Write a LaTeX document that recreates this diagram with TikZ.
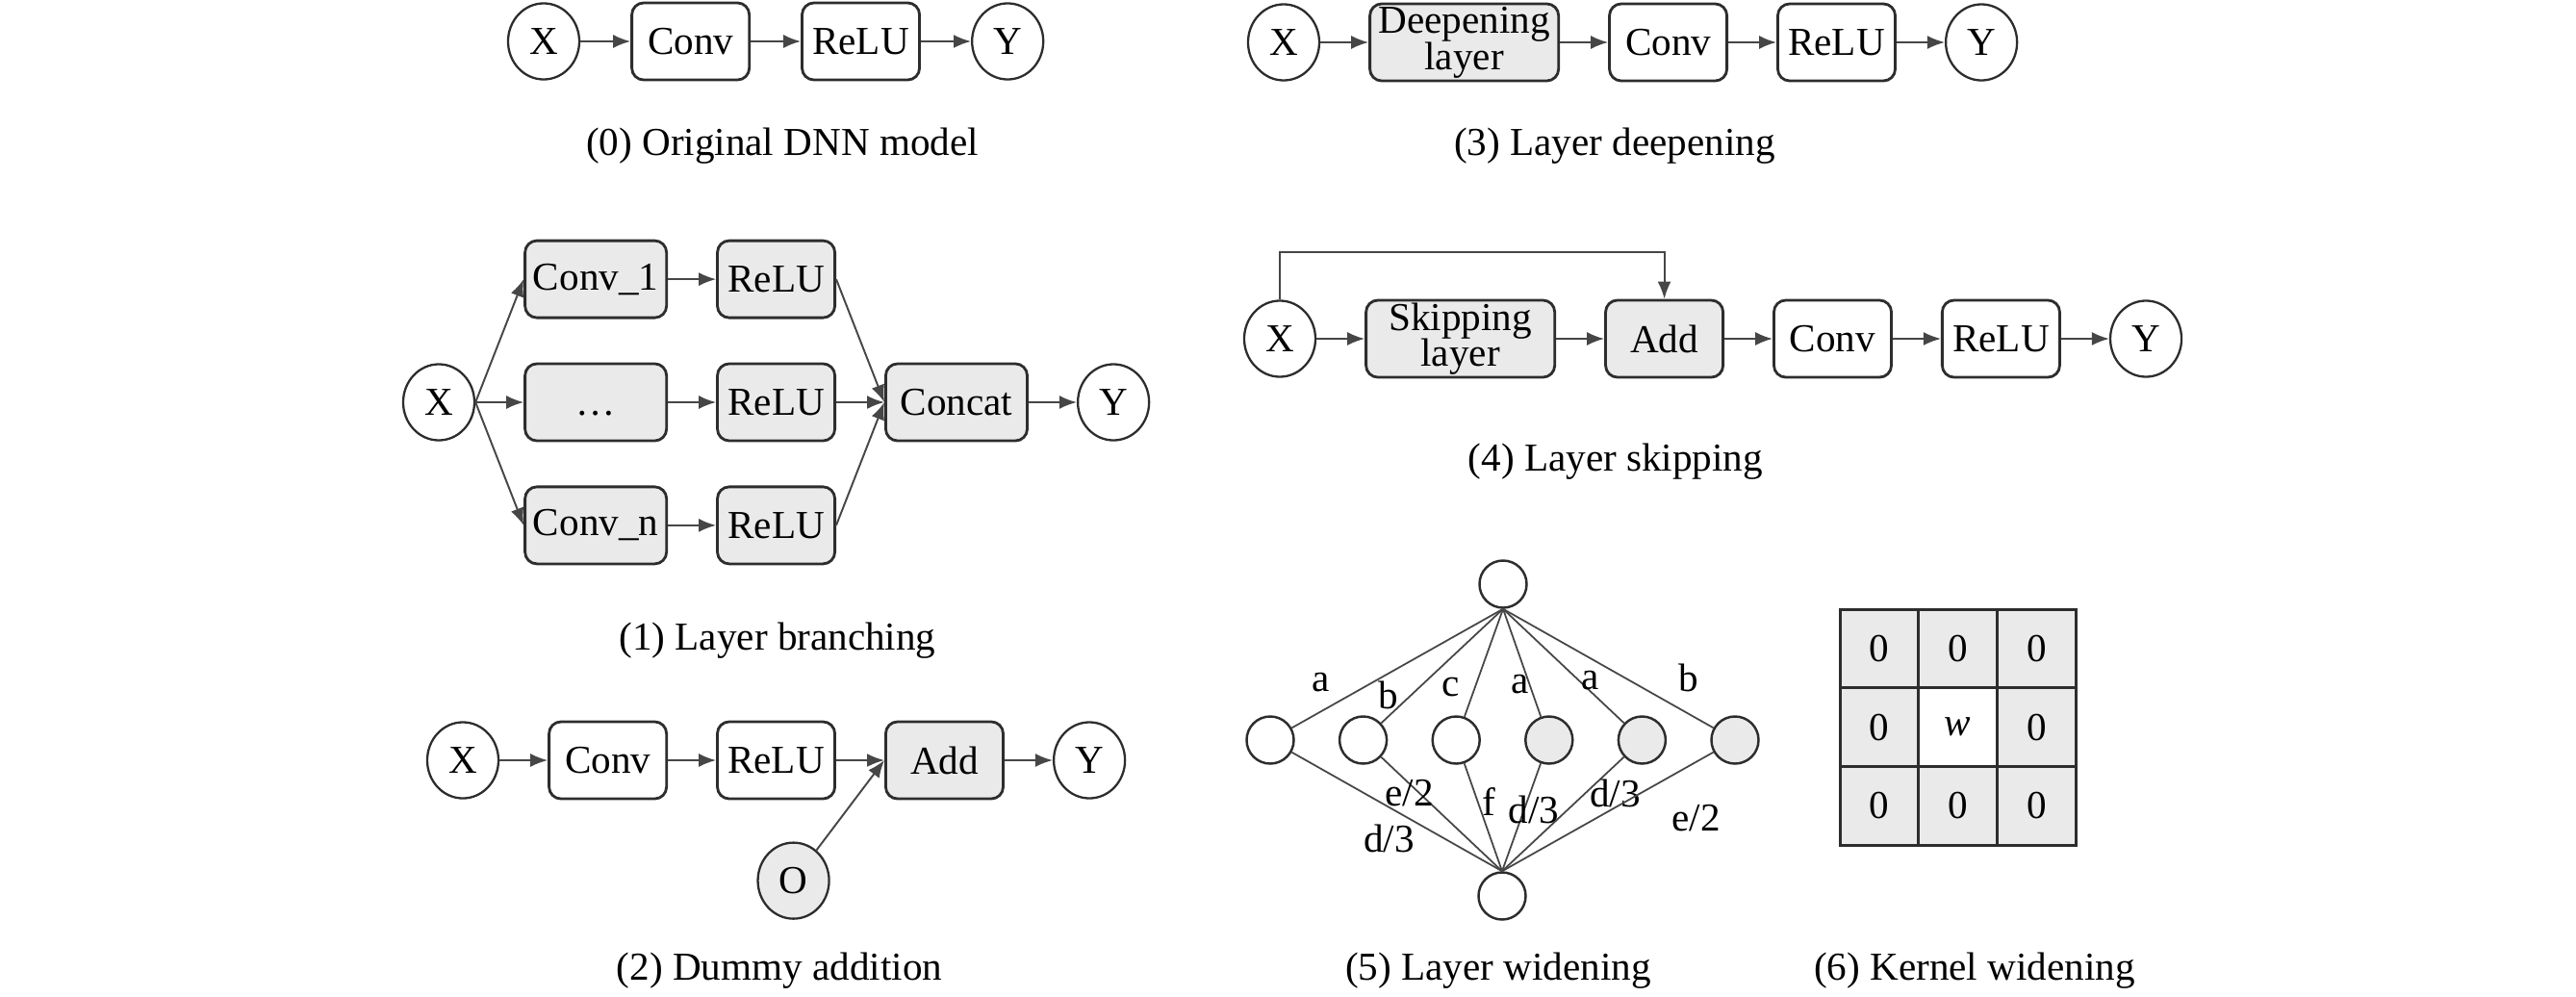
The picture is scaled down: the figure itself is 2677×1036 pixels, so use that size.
\documentclass[tikz,border=0pt]{standalone}
\usepackage{fontspec}
\setmainfont{Liberation Serif}
\usetikzlibrary{arrows.meta, positioning, shapes.geometric}
\definecolor{boxfill}{RGB}{234,234,234}
\definecolor{edgegray}{RGB}{45,45,45}
\definecolor{linegray}{RGB}{70,70,70}

\begin{document}
\begin{tikzpicture}[x=0.01cm, y=-0.01cm,
    blk/.style={rectangle, rounded corners=3.5pt, draw=edgegray, line width=0.8pt, fill=white, minimum width=1.22cm, minimum height=0.8cm, inner xsep=2pt, inner ysep=0.5pt, align=center, font=\fontsize{11.7pt}{14pt}\selectfont},
    gblk/.style={blk, fill=boxfill},
    wide/.style={minimum width=1.47cm},
    wider/.style={minimum width=1.96cm},
    term/.style={ellipse, draw=edgegray, line width=0.65pt, fill=white, minimum width=0.74cm, minimum height=0.79cm, inner sep=0pt, font=\fontsize{11.7pt}{14pt}\selectfont},
    neuron/.style={circle, draw=edgegray, line width=0.7pt, minimum size=0.49cm, inner sep=0pt},
    cell/.style={rectangle, draw=edgegray, line width=0.8pt, fill=boxfill, minimum size=0.817cm, inner sep=0pt, font=\fontsize{11.7pt}{14pt}\selectfont},
    captxt/.style={font=\fontsize{11.7pt}{14pt}\selectfont, inner sep=0pt},
    wlbl/.style={font=\fontsize{11.7pt}{14pt}\selectfont, inner sep=0pt, text=black},
    arrow/.style={-{Latex[length=1.8mm, width=1.4mm]}, line width=0.55pt, color=linegray},
    wline/.style={line width=0.5pt, color=linegray}
]
\useasboundingbox (0,0) rectangle (2677,1036);

% (0) original model
\node[term] (x0) at (565,43) {X};
\node[blk, right=0.52cm of x0] (conv0) {Conv};
\node[blk, right=0.52cm of conv0] (relu0) {ReLU};
\node[term, right=0.52cm of relu0] (y0) {Y};
\draw[arrow] (x0) -- (conv0);
\draw[arrow] (conv0) -- (relu0);
\draw[arrow] (relu0) -- (y0);
\node[captxt] (cap0) at (813,152) {(0) Original DNN model};

% (3) deepening
\node[term] (x3) at (1334,44) {X};
\node[gblk, wider, right=0.5cm of x3] (deep3) {Deepening\\[-3.3pt]layer};
\node[blk, right=0.5cm of deep3] (conv3) {Conv};
\node[blk, right=0.5cm of conv3] (relu3) {ReLU};
\node[term, right=0.5cm of relu3] (y3) {Y};
\draw[arrow] (x3) -- (deep3);
\draw[arrow] (deep3) -- (conv3);
\draw[arrow] (conv3) -- (relu3);
\draw[arrow] (relu3) -- (y3);
\node[captxt] (cap3) at (1678,152) {(3) Layer deepening};

% (1) branching
\node[term] (x1) at (456,418) {X};
\node[gblk, wide, right=0.5cm of x1] (c12) {\vphantom{C}…};
\node[gblk, wide, above=0.45cm of c12] (c11) {Conv\_1};
\node[gblk, wide, below=0.45cm of c12] (c1n) {Conv\_n};
\node[gblk, right=0.5cm of c11] (r11) {ReLU};
\node[gblk, right=0.5cm of c12] (r12) {ReLU};
\node[gblk, right=0.5cm of c1n] (r1n) {ReLU};
\node[gblk, wide, right=0.5cm of r12] (concat1) {Concat};
\node[term, right=0.5cm of concat1] (y1) {Y};
\draw[arrow] (x1.east) -- (c11.west);
\draw[arrow] (x1.east) -- (c12.west);
\draw[arrow] (x1.east) -- (c1n.west);
\draw[arrow] (c11) -- (r11);
\draw[arrow] (c12) -- (r12);
\draw[arrow] (c1n) -- (r1n);
\draw[arrow] (r11.east) -- (concat1.west);
\draw[arrow] (r12.east) -- (concat1.west);
\draw[arrow] (r1n.east) -- (concat1.west);
\draw[arrow] (concat1) -- (y1);
\node[captxt] (cap1) at (808,666) {(1) Layer branching};

% (4) skipping
\node[term] (x4) at (1330,352) {X};
\node[gblk, wider, right=0.5cm of x4] (skip4) {Skipping\\[-3.3pt]layer};
\node[gblk, right=0.5cm of skip4] (add4) {Add};
\node[blk, right=0.5cm of add4] (conv4) {Conv};
\node[blk, right=0.5cm of conv4] (relu4) {ReLU};
\node[term, right=0.5cm of relu4] (y4) {Y};
\draw[arrow] (x4) -- (skip4);
\draw[arrow] (skip4) -- (add4);
\draw[arrow] (add4) -- (conv4);
\draw[arrow] (conv4) -- (relu4);
\draw[arrow] (relu4) -- (y4);
\draw[arrow] (x4.north) -- ++(0,-49) -| (add4.north);
\node[captxt] (cap4) at (1679,480) {(4) Layer skipping};

% (2) dummy addition
\node[term] (x2) at (481,790) {X};
\node[blk, right=0.5cm of x2] (conv2) {Conv};
\node[blk, right=0.5cm of conv2] (relu2) {ReLU};
\node[gblk, right=0.5cm of relu2] (add2) {Add};
\node[term, right=0.5cm of add2] (y2) {Y};
\node[term, fill=boxfill, below=0.43cm of relu2, xshift=0.18cm] (o2) {O};
\draw[arrow] (x2) -- (conv2);
\draw[arrow] (conv2) -- (relu2);
\draw[arrow] (relu2) -- (add2);
\draw[arrow] (add2) -- (y2);
\draw[arrow] (o2) -- (add2.west);
\node[captxt] (cap2) at (810,1009) {(2) Dummy addition};

% (5) widening
\node[neuron] (wt) at (1562,607) {};
\node[neuron] (wb) at (1561,931) {};
\foreach \i/\f in {1/white,2/white,3/white,4/boxfill,5/boxfill,6/boxfill}
  \node[neuron, fill=\f] (w\i) at ({1320+96.6*(\i-1)},769) {};
\foreach \i/\lab/\p/\dx/\dy in {1/a/0.805/-13/-23, 2/b/0.856/-11/-12, 3/c/0.80/-22/-8, 4/a/0.675/-9/3, 5/a/0.674/6/-6, 6/b/0.807/16/-28}
  \draw[wline] (wt.south) -- (w\i) node[wlbl, pos=\p, shift={(\dx,\dy)}] {\lab};
\foreach \i/\lab/\p/\dx/\dy in {1/{d/3}/0.527/-14/25, 2/{e/2}/0.274/-5/5, 3/f/0.385/10/-3, 4/{d/3}/0.407/9/3, 5/{d/3}/0.189/15/15, 6/{e/2}/0.195/25/44}
  \draw[wline] (w\i) -- (wb.north) node[wlbl, pos=\p, shift={(\dx,\dy)}] {\lab};
\node[captxt] (cap5) at (1557,1009) {(5) Layer widening};

% (6) kernel widening
\foreach \r/\c in {1/1,1/2,1/3,2/1,2/3,3/1,3/2,3/3}
  \node[cell] (k\r\c) at ({1953+81.7*(\c-1)},{674+81.7*(\r-1)}) {0};
\node[cell, fill=white] (k22) at (2034.7,755.7) {\textit{w}};
\node[captxt] (cap6) at (2052,1009) {(6) Kernel widening};
\end{tikzpicture}
\end{document}
